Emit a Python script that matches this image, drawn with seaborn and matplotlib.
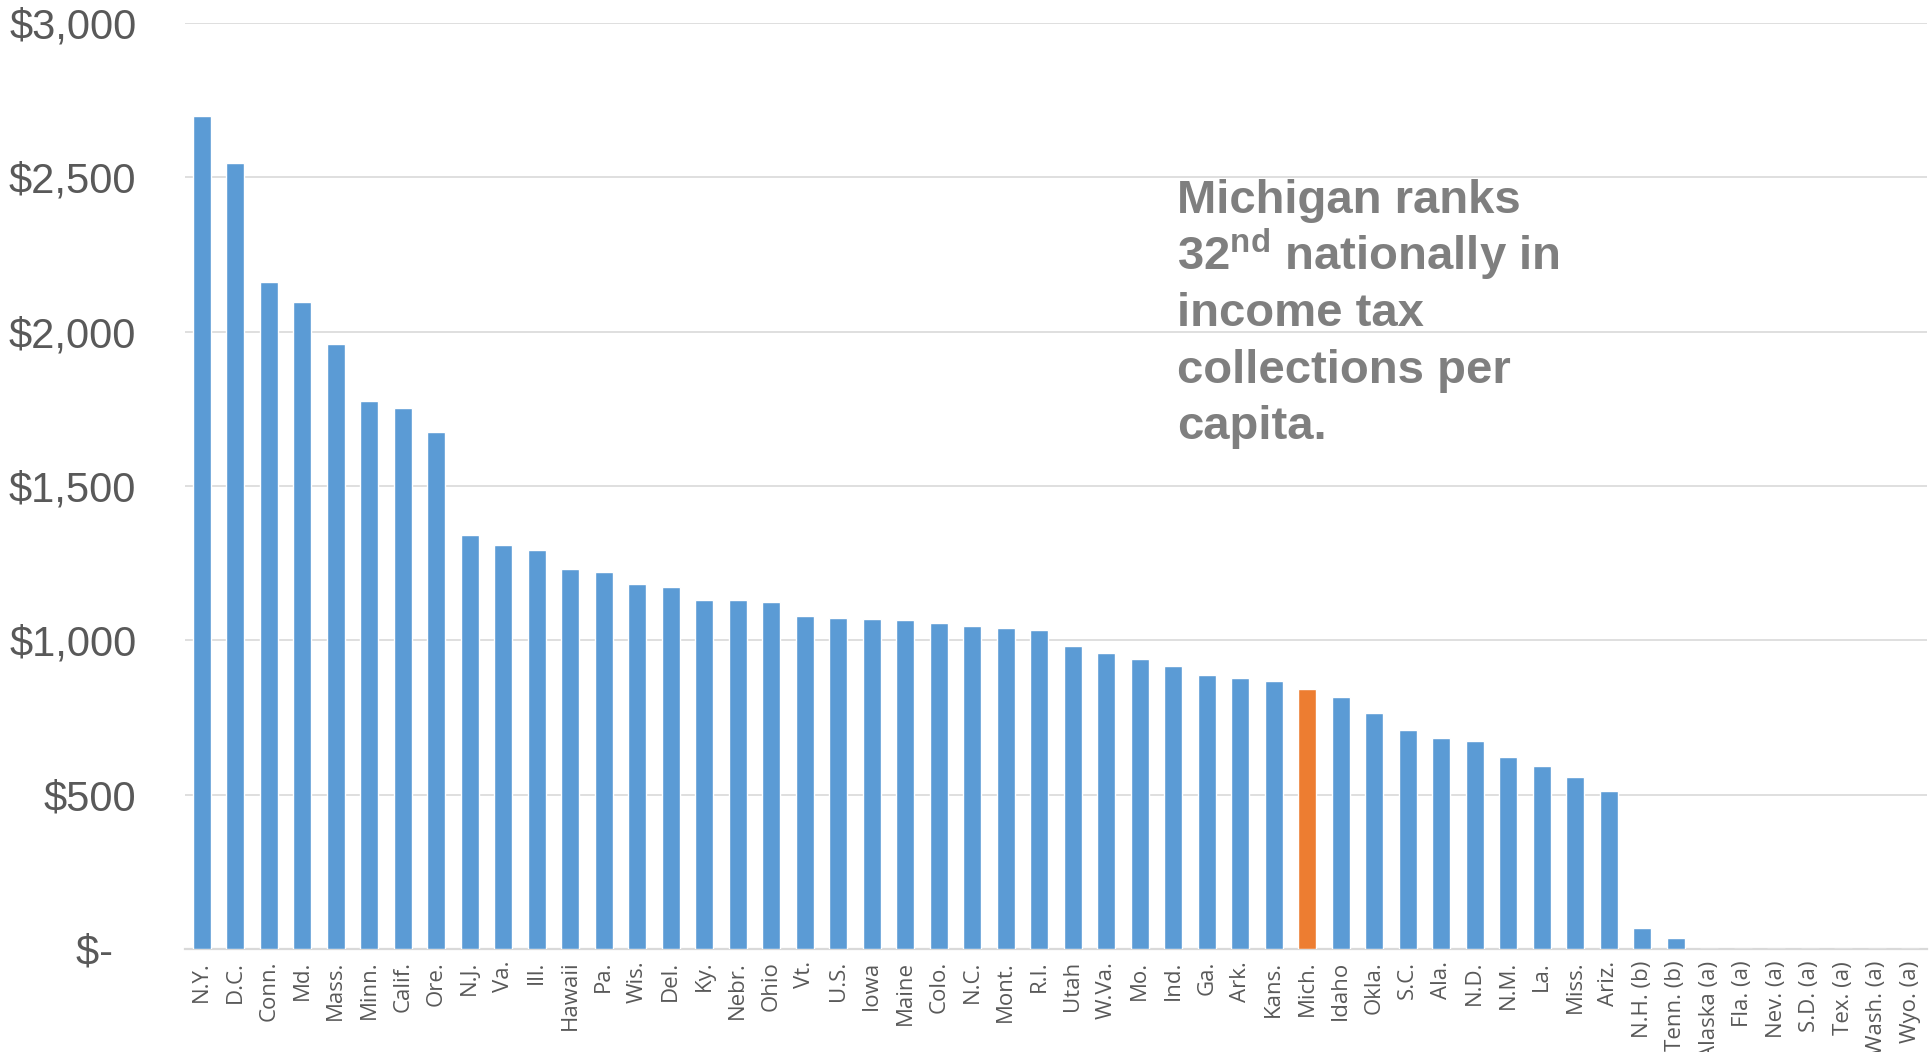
import numpy as np
import pandas as pd
import matplotlib
matplotlib.use('Agg')
import matplotlib.pyplot as plt
from matplotlib.ticker import FuncFormatter
import seaborn as sns

states = ['N.Y.', 'D.C.', 'Conn.', 'Md.', 'Mass.', 'Minn.', 'Calif.', 'Ore.', 'N.J.', 'Va.',
          'Ill.', 'Hawaii', 'Pa.', 'Wis.', 'Del.', 'Ky.', 'Nebr.', 'Ohio', 'Vt.', 'U.S.',
          'Iowa', 'Maine', 'Colo.', 'N.C.', 'Mont.', 'R.I.', 'Utah', 'W.Va.', 'Mo.', 'Ind.',
          'Ga.', 'Ark.', 'Kans.', 'Mich.', 'Idaho', 'Okla.', 'S.C.', 'Ala.', 'N.D.', 'N.M.',
          'La.', 'Miss.', 'Ariz.', 'N.H. (b)', 'Tenn. (b)', 'Alaska (a)', 'Fla. (a)', 'Nev. (a)',
          'S.D. (a)', 'Tex. (a)', 'Wash. (a)', 'Wyo. (a)']
per_capita = [2700, 2546, 2162, 2097, 1960, 1775, 1752, 1674, 1342, 1309,
              1294, 1231, 1223, 1181, 1173, 1132, 1130, 1124, 1078, 1071,
              1068, 1065, 1057, 1046, 1041, 1032, 983, 958, 939, 917,
              889, 878, 867, 841, 818, 763, 708, 682, 674, 622,
              593, 556, 513, 67, 35, 0, 0, 0,
              0, 0, 0, 0]
highlight = 'Mich.'
y_ticks = [0, 500, 1000, 1500, 2000, 2500, 3000]

note_lines = ['Michigan ranks', r'32$^{\mathbf{nd}}$ nationally in', 'income tax',
              'collections per', 'capita.']

blue = '#5B9BD5'
orange = '#ED7D31'
grid_c = '#D9D9D9'
text_c = '#595959'

sns.set_style('white')
plt.rcParams['font.family'] = ['Open Sans', 'DejaVu Sans']
plt.rcParams['mathtext.fontset'] = 'custom'
plt.rcParams['mathtext.rm'] = 'Liberation Sans'
plt.rcParams['mathtext.bf'] = 'Liberation Sans:bold'

df = pd.DataFrame({'state': states, 'value': per_capita})
pal = {s: (orange if s == highlight else blue) for s in states}

fig = plt.figure(figsize=(19.29, 10.52), dpi=100)
ax = fig.add_axes([185 / 1929, 1 - 949 / 1052, 1742 / 1929, 926 / 1052])

sns.barplot(data=df, x='state', y='value', hue='state', palette=pal, dodge=False,
            legend=False, width=0.53, saturation=1, ax=ax, zorder=3)

ax.set_xlim(-0.5, len(states) - 0.5)
ax.set_ylim(0, 3000)
ax.set_yticks(y_ticks)
ax.yaxis.set_major_formatter(FuncFormatter(lambda v, p: '$-  ' if v == 0 else f'${v:,.0f}'))
ax.set_xlabel('')
ax.set_ylabel('')

ax.yaxis.grid(True, color=grid_c, lw=1.2, zorder=0)
ax.set_axisbelow(True)
for s in ['top', 'right', 'left']:
    ax.spines[s].set_visible(False)
ax.spines['bottom'].set_color(grid_c)
ax.spines['bottom'].set_linewidth(1.6)

ax.tick_params(axis='y', length=0, pad=35, labelsize=30, labelcolor=text_c)
for t in ax.get_yticklabels():
    t.set_fontfamily('Liberation Sans')
ax.tick_params(axis='x', length=0, pad=8.5, labelsize=16, labelcolor=text_c, rotation=90)

# annotation, one line at a time
base_y = [212.7, 270, 326, 383, 439]
for line, yb in zip(note_lines, base_y):
    fig.text(1177 / 1929, 1 - yb / 1052, line, fontsize=34, fontweight='bold',
             family='Liberation Sans', color='#7F7F7F', va='baseline', ha='left')

fig.savefig('out.png', dpi=100)
